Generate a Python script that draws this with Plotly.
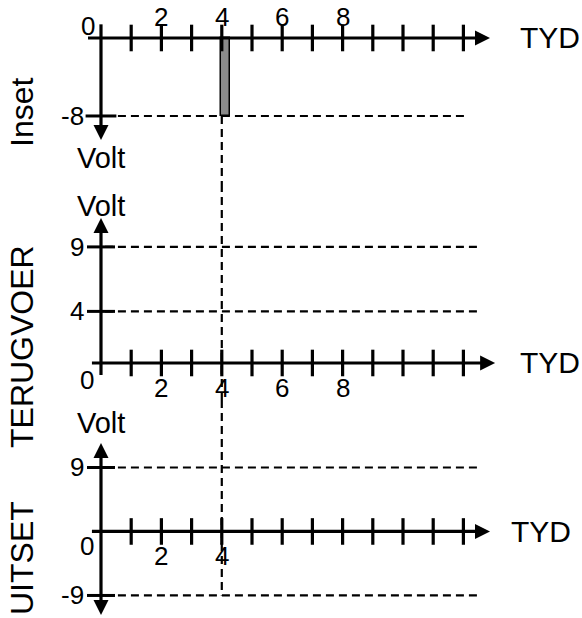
import plotly.graph_objects as go

# ---------------- data ----------------
time_ticks = list(range(1, 13))          # minor time ticks on every axis
top_time_labels = [2, 4, 6, 8]
mid_time_labels = [2, 4, 6, 8]
bot_time_labels = [2, 4]
pulse_time = 4
pulse_volt = -8
input_levels = [-8]
feedback_levels = [9, 4]
output_levels = [9, -9]
panel_names = ["Inset", "TERUGVOER", "UITSET"]
axis_name_x = "TYD"
axis_name_y = "Volt"

# ---------------- style / layout constants ----------------
W, H = 582, 618
BLACK = "#000000"
FONT = "Liberation Sans, Arial, sans-serif"
X_RANGE = [-3.344, 15.927]
PANELS = {
    1: dict(domain=[1 - 185 / 618, 1.0], range=[-15.08, 3.897]),
    2: dict(domain=[1 - 400 / 618, 1 - 185 / 618], range=[-2.87, 13.80]),
    3: dict(domain=[0.0, 1 - 400 / 618], range=[-12.17, 18.49]),
}
TICK_FS = 26
VOLT_FS = 29
TYD_FS = 30
NAME_FS = 32

fig = go.Figure()


def ax(p):
    return ("x", "y") if p == 1 else (f"x{p}", f"y{p}")


def add_line(p, xs, ys, width=3.2, dash=None):
    xa, ya = ax(p)
    fig.add_trace(go.Scatter(x=xs, y=ys, mode="lines",
                             line=dict(color=BLACK, width=width, dash=dash),
                             xaxis=xa, yaxis=ya, hoverinfo="skip",
                             showlegend=False, cliponaxis=False))


def add_markers(p, xs, ys, symbol, size, lw=0):
    xa, ya = ax(p)
    fig.add_trace(go.Scatter(x=xs, y=ys, mode="markers",
                             marker=dict(symbol=symbol, size=size, color=BLACK,
                                         line=dict(color=BLACK, width=lw)),
                             xaxis=xa, yaxis=ya, hoverinfo="skip",
                             showlegend=False, cliponaxis=False))


def add_text(p, x, y, text, size=TICK_FS, xanchor="center", yanchor="middle",
             xshift=0, yshift=0):
    xa, ya = ax(p)
    fig.add_annotation(x=x, y=y, xref=xa, yref=ya, text=text, showarrow=False,
                       font=dict(family=FONT, size=size, color=BLACK),
                       xanchor=xanchor, yanchor=yanchor,
                       xshift=xshift, yshift=yshift)


DASH = "8px,5px"
DW = 2.2

# ---------- panel 1 : Inset ----------
x_start, x_tip = -0.43, 12.88
y_top, y_tip = 1.4, -10.46
# pulse bar
fig.add_trace(go.Bar(x=[pulse_time], y=[pulse_volt], base=0, width=0.3, offset=-0.04,
                     marker=dict(color="#8a8a8a", line=dict(color=BLACK, width=1.5)),
                     xaxis="x", yaxis="y", showlegend=False, hoverinfo="skip"))
for lv in input_levels:
    add_line(1, [0.13, 12.05], [lv, lv], width=DW, dash=DASH)
add_line(1, [pulse_time, pulse_time], [pulse_volt, PANELS[1]["range"][0]], width=DW, dash=DASH)
add_line(1, [x_start, x_tip - 0.3], [0, 0])
add_markers(1, [x_tip], [0], "arrow-right", 15)
add_line(1, [0, 0], [y_top, y_tip + 1.0])
add_markers(1, [0], [y_tip], "arrow-down", 15)
add_markers(1, time_ticks, [0] * len(time_ticks), "line-ns", 19, 3.2)
add_markers(1, [0] * len(input_levels), input_levels, "line-ew", 22, 3)
for t in top_time_labels:
    add_text(1, t, 0, str(t), yshift=21)
add_text(1, 0, 0, "0", xshift=-13, yshift=12)
for lv in input_levels:
    add_text(1, 0, lv, str(lv), xanchor="right", xshift=-15)
add_text(1, 0, y_tip, axis_name_y, size=VOLT_FS, yshift=-18)
add_text(1, x_tip, 0, axis_name_x, size=TYD_FS, xanchor="left", xshift=28)

# ---------- panel 2 : TERUGVOER ----------
x_start, x_tip = -0.3, 13.05
y_bot, y_tip = -0.93, 11.24
for lv in feedback_levels:
    add_line(2, [0.13, 12.55], [lv, lv], width=DW, dash=DASH)
add_line(2, [pulse_time, pulse_time], PANELS[2]["range"], width=DW, dash=DASH)
add_line(2, [x_start, x_tip - 0.3], [0, 0])
add_markers(2, [x_tip], [0], "arrow-right", 15)
add_line(2, [0, 0], [y_bot, y_tip - 0.8])
add_markers(2, [0], [y_tip], "arrow-up", 15)
add_markers(2, time_ticks, [0] * len(time_ticks), "line-ns", 19, 3.2)
add_markers(2, [0] * len(feedback_levels), feedback_levels, "line-ew", 20, 3)
for t in mid_time_labels:
    add_text(2, t, 0, str(t), yshift=-25)
add_text(2, 0, 0, "0", xshift=-14, yshift=-17)
for lv in feedback_levels:
    add_text(2, 0, lv, str(lv), xanchor="right", xshift=-15)
add_text(2, 0, y_tip, axis_name_y, size=VOLT_FS, yshift=12)
add_text(2, x_tip, 0, axis_name_x, size=TYD_FS, xanchor="left", xshift=23)

# ---------- panel 3 : UITSET ----------
x_start, x_tip = -0.3, 12.88
y_tip_up, y_tip_dn = 12.45, -11.74
for lv in output_levels:
    add_line(3, [0.13, 12.45], [lv, lv], width=DW, dash=DASH)
add_line(3, [pulse_time, pulse_time], [PANELS[3]["range"][1], min(output_levels)], width=DW, dash=DASH)
add_line(3, [x_start, x_tip - 0.3], [0, 0])
add_markers(3, [x_tip], [0], "arrow-right", 15)
add_line(3, [0, 0], [y_tip_up - 1.5, y_tip_dn + 1.5])
add_markers(3, [0], [y_tip_up], "arrow-up", 15)
add_markers(3, [0], [y_tip_dn], "arrow-down", 15)
add_markers(3, time_ticks, [0] * len(time_ticks), "line-ns", 19, 3.2)
add_markers(3, [0] * len(output_levels), output_levels, "line-ew", 20, 3)
for t in bot_time_labels:
    add_text(3, t, 0, str(t), yshift=-25)
add_text(3, 0, 0, "0", xshift=-14, yshift=-15)
for lv in output_levels:
    add_text(3, 0, lv, str(lv), xanchor="right", xshift=-15)
add_text(3, 0, y_tip_up, axis_name_y, size=VOLT_FS, yshift=20)
add_text(3, x_tip, 0, axis_name_x, size=TYD_FS, xanchor="left", xshift=19)

# ---------- rotated panel names ----------
for name, cy in zip(panel_names, [113, 347, 558]):
    fig.add_annotation(x=22 / W, y=1 - cy / H, xref="paper", yref="paper",
                       text=name, showarrow=False, textangle=-90,
                       font=dict(family=FONT, size=NAME_FS, color=BLACK),
                       xanchor="center", yanchor="middle")

layout_axes = {}
for p, cfg in PANELS.items():
    xa, ya = ax(p)
    xk = "xaxis" if p == 1 else f"xaxis{p}"
    yk = "yaxis" if p == 1 else f"yaxis{p}"
    layout_axes[xk] = dict(range=X_RANGE, domain=[0, 1], anchor=ya, visible=False, fixedrange=True)
    layout_axes[yk] = dict(range=cfg["range"], domain=cfg["domain"], anchor=xa, visible=False, fixedrange=True)

fig.update_layout(width=W, height=H, margin=dict(l=0, r=0, t=0, b=0),
                  paper_bgcolor="white", plot_bgcolor="rgba(0,0,0,0)",
                  showlegend=False, bargap=0, **layout_axes)

fig.write_html("out.html", config={"displayModeBar": False},
               post_script="document.body.style.margin='0';document.body.style.overflow='hidden';")
